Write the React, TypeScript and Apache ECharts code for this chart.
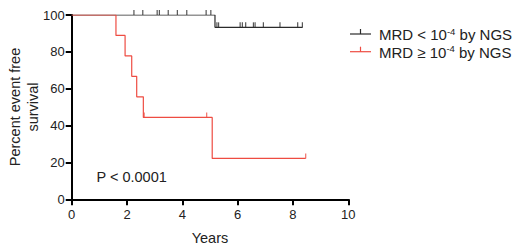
import React, { useEffect, useRef } from "react";
import * as echarts from "echarts";

// Kaplan–Meier curves: [years, percent]
const lowMrdCurve: [number, number][] = [
  [0, 100],
  [5.18, 93.3],
  [8.35, 93.3],
];
const lowMrdCensored: [number, number][] = [
  [2.25, 100], [2.57, 100], [3.09, 100], [3.17, 100], [3.49, 100],
  [3.82, 100], [4.16, 100], [4.86, 100], [5.03, 100],
  [5.25, 93.3], [5.31, 93.3], [6.09, 93.3], [6.17, 93.3], [6.29, 93.3],
  [6.57, 93.3], [6.63, 93.3], [6.93, 93.3], [7.53, 93.3], [8.17, 93.3], [8.34, 93.3],
];
const highMrdCurve: [number, number][] = [
  [0, 100],
  [1.6, 88.9],
  [1.93, 77.8],
  [2.17, 66.7],
  [2.35, 55.6],
  [2.59, 44.4],
  [5.08, 22.2],
  [8.46, 22.2],
];
const highMrdCensored: [number, number][] = [
  [2.62, 44.4],
  [4.88, 44.4],
  [8.46, 22.2],
];
const xTicks = { min: 0, max: 10, interval: 2 };
const yTicks = { min: 0, max: 100, interval: 20 };
const pValueText = "P < 0.0001";
const yAxisTitle = ["Percent event free", "survival"];
const xAxisTitle = "Years";

const BLACK = "#2b2b2b";
const RED = "#ee4c42";
const FONT = "Liberation Sans, Arial, sans-serif";

export default function App() {
  const ref = useRef<HTMLDivElement>(null);
  useEffect(() => {
    if (!ref.current) return;
    const chart = echarts.init(ref.current, undefined, { renderer: "svg" });
    const axisCommon = {
      axisLine: { show: true, lineStyle: { color: "#000", width: 2 } },
      axisTick: { show: true, inside: false, length: 6, lineStyle: { color: "#000", width: 2 } },
      splitLine: { show: false },
      axisLabel: { color: "#222", fontSize: 13, fontFamily: FONT },
    };
    const legendRow = (y: number, color: string, sign: string) => ({
      type: "group",
      children: [
        { type: "line", shape: { x1: 350, y1: y, x2: 371, y2: y }, style: { stroke: color, lineWidth: 1.2 } },
        { type: "line", shape: { x1: 360.5, y1: y - 5, x2: 360.5, y2: y }, style: { stroke: color, lineWidth: 1.2 } },
        {
          type: "text",
          x: 379,
          y: y,
          style: {
            text: `{a|MRD ${sign} 10}{s|-4}{a| by NGS}`,
            verticalAlign: "middle",
            align: "left",
            rich: {
              a: { fontSize: 15, fontFamily: FONT, fill: "#222", lineHeight: 16, verticalAlign: "bottom" },
              s: { fontSize: 9.5, fontFamily: FONT, fill: "#222", lineHeight: 16, verticalAlign: "top" },
            },
          },
        },
      ],
    });
    chart.setOption({
      animation: false,
      backgroundColor: "#fff",
      grid: { left: 71.7, right: 171.7, top: 15, bottom: 51.7, outerBoundsMode: "none" },
      xAxis: {
        type: "value",
        ...xTicks,
        ...axisCommon,
        axisLabel: { ...axisCommon.axisLabel, margin: 9 },
        name: xAxisTitle,
        nameLocation: "middle",
        nameGap: 31,
        nameTextStyle: { fontSize: 14.5, fontFamily: FONT, color: "#222" },
      },
      yAxis: {
        type: "value",
        ...yTicks,
        ...axisCommon,
        axisLabel: { ...axisCommon.axisLabel, margin: 7 },
      },
      graphic: [
        {
          type: "text",
          x: 24,
          y: 107,
          rotation: Math.PI / 2,
          style: {
            text: yAxisTitle.join("\n"),
            align: "center",
            verticalAlign: "middle",
            fontSize: 14.5,
            lineHeight: 18,
            fontFamily: FONT,
            fill: "#222",
          },
        },
        {
          type: "text",
          x: 96.5,
          y: 177,
          style: { text: pValueText, align: "left", verticalAlign: "middle", fontSize: 14.5, fontFamily: FONT, fill: "#222" },
        },
        legendRow(34, BLACK, "<"),
        legendRow(51.7, RED, "≥"),
      ],
      series: [
        {
          type: "line",
          step: "end",
          data: lowMrdCurve,
          symbol: "none",
          lineStyle: { color: BLACK, width: 1.2 },
          z: 2,
        },
        {
          type: "scatter",
          data: lowMrdCensored,
          symbol: "rect",
          symbolSize: [1.2, 5],
          symbolOffset: [0, -2.5],
          itemStyle: { color: BLACK },
          z: 2,
        },
        {
          type: "line",
          step: "end",
          data: highMrdCurve,
          symbol: "none",
          lineStyle: { color: RED, width: 1.2 },
          z: 3,
        },
        {
          type: "scatter",
          data: highMrdCensored,
          symbol: "rect",
          symbolSize: [1.2, 5],
          symbolOffset: [0, -2.5],
          itemStyle: { color: RED },
          z: 3,
        },
      ],
    });
    return () => chart.dispose();
  }, []);
  return (
    <div
      ref={ref}
      style={{ position: "fixed", left: 0, top: 0, width: 520, height: 251, background: "#fff" }}
    />
  );
}
